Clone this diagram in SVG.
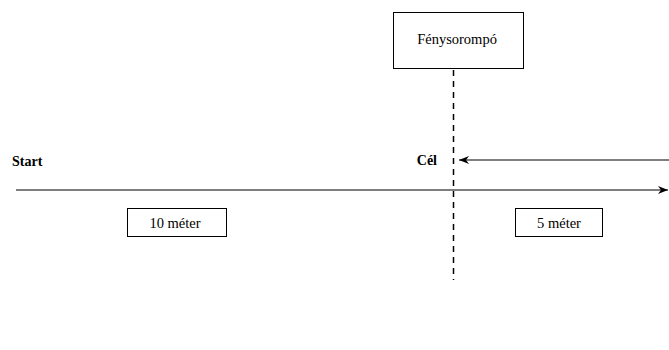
<svg xmlns="http://www.w3.org/2000/svg" width="669" height="350" viewBox="0 0 669 350">
<style>
.box{fill:#fff;stroke:#000;stroke-width:1}
.ln{stroke:#000;stroke-width:1.2;fill:none}
.dash{stroke:#000;stroke-width:1.5;stroke-dasharray:6,5;fill:none}
</style>
<defs>
<marker id="ah" markerWidth="10" markerHeight="8" refX="10" refY="4" orient="auto" markerUnits="userSpaceOnUse">
<path d="M0,0 L10,4 L0,8 L3,4 z" fill="#000"/>
</marker>
</defs>
<g id="connectors">
<line class="dash" x1="453.5" y1="70" x2="453.5" y2="280"/>
<line class="ln" x1="16" y1="190" x2="668" y2="190" marker-end="url(#ah)"/>
<line class="ln" x1="669" y1="160" x2="459" y2="160" marker-end="url(#ah)"/>
</g>
<g id="fenysorompo">
<rect class="box" x="393.5" y="12.5" width="130" height="56"/>
<text font-family="Liberation Serif" font-size="14.5" x="457" y="44" text-anchor="middle">Fénysorompó</text>
</g>
<g id="start">
<text font-family="Liberation Serif" font-size="14" font-weight="bold" x="12" y="166">Start</text>
</g>
<g id="cel">
<text font-family="Liberation Serif" font-size="14" font-weight="bold" x="437" y="165" text-anchor="end">Cél</text>
</g>
<g id="tiz-meter">
<rect class="box" x="127.5" y="208.5" width="99" height="28"/>
<text font-family="Liberation Serif" font-size="14.5" x="175" y="228" text-anchor="middle">10 méter</text>
</g>
<g id="ot-meter">
<rect class="box" x="515.5" y="208.5" width="87" height="28"/>
<text font-family="Liberation Serif" font-size="14.5" x="559" y="228" text-anchor="middle">5 méter</text>
</g>
</svg>
